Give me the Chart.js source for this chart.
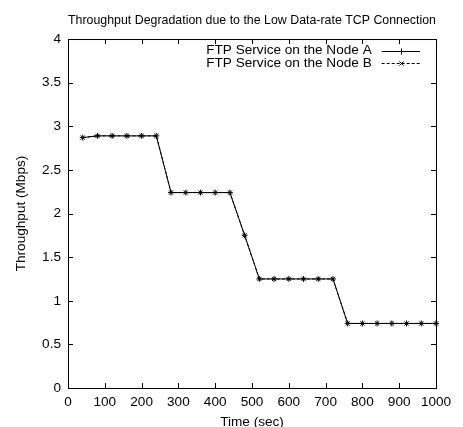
<!DOCTYPE html>
<html><head><meta charset="utf-8">
<script src="https://cdn.jsdelivr.net/npm/chart.js@4"></script>
<style>html,body{margin:0;padding:0;background:#fff;}canvas{display:block;}</style>
</head><body>
<canvas id="c" width="463" height="427"></canvas>
<script>
const chartTitle = 'Throughput Degradation due to the Low Data-rate TCP Connection';
const xTitle = 'Time (sec)';
const yTitle = 'Throughput (Mbps)';
const seriesLabels = ['FTP Service on the Node A', 'FTP Service on the Node B'];
const timeSec = [40, 80, 120, 160, 200, 240, 280, 320, 360, 400, 440, 480, 520, 560, 600, 640, 680, 720, 760, 800, 840, 880, 920, 960, 1000];
const nodeA = [2.87, 2.89, 2.89, 2.89, 2.89, 2.89, 2.24, 2.24, 2.24, 2.24, 2.24, 1.75, 1.25, 1.25, 1.25, 1.25, 1.25, 1.25, 0.74, 0.74, 0.74, 0.74, 0.74, 0.74, 0.74];
const nodeB = [2.87, 2.89, 2.89, 2.89, 2.89, 2.89, 2.24, 2.24, 2.24, 2.24, 2.24, 1.75, 1.25, 1.25, 1.25, 1.25, 1.25, 1.25, 0.74, 0.74, 0.74, 0.74, 0.74, 0.74, 0.74];
const xTickLabels = ['0', '100', '200', '300', '400', '500', '600', '700', '800', '900', '1000'];
const yTickLabels = ['0', '0.5', '1', '1.5', '2', '2.5', '3', '3.5', '4'];

const FONT_FAMILY = '"Liberation Sans", Arial, Helvetica, sans-serif';
const FONT_SIZE = 13.6;
Chart.defaults.font.family = FONT_FAMILY;
Chart.defaults.font.size = FONT_SIZE;
Chart.defaults.color = '#000';

const toPts = (xs, ys) => xs.map((x, i) => ({x: x, y: ys[i]}));

const framePlugin = {
  id: 'gpFrame',
  beforeDatasetsDraw(chart) {
    const {ctx, chartArea: a, scales: {x, y}} = chart;
    const L = 5;
    ctx.save();
    ctx.strokeStyle = '#000';
    ctx.lineWidth = 1;
    ctx.beginPath();
    x.ticks.forEach((t, i) => {
      if (i === 0 || i === x.ticks.length - 1) return;
      const px = Math.round(x.getPixelForValue(t.value)) + 0.5;
      ctx.moveTo(px, a.bottom); ctx.lineTo(px, a.bottom - L);
      ctx.moveTo(px, a.top); ctx.lineTo(px, a.top + L);
    });
    y.ticks.forEach((t, i) => {
      if (i === 0 || i === y.ticks.length - 1) return;
      const py = Math.round(y.getPixelForValue(t.value)) + 0.5;
      ctx.moveTo(a.left, py); ctx.lineTo(a.left + L, py);
      ctx.moveTo(a.right, py); ctx.lineTo(a.right - L, py);
    });
    ctx.stroke();
    ctx.strokeRect(a.left + 0.5, a.top + 0.5, a.right - a.left, a.bottom - a.top);
    ctx.restore();
  }
};

const legendPlugin = {
  id: 'gpLegend',
  afterDatasetsDraw(chart) {
    const {ctx, chartArea: a} = chart;
    ctx.save();
    ctx.font = FONT_SIZE + 'px ' + FONT_FAMILY;
    ctx.fillStyle = '#000';
    ctx.textAlign = 'right';
    ctx.textBaseline = 'middle';
    chart.data.datasets.forEach((ds, i) => {
      const yy = a.top + 11.7 + i * 12.6;
      ctx.fillText(ds.label, a.right - 64.3, yy);
      const x0 = a.right - 54.3, x1 = a.right - 16;
      const ly = Math.round(yy) + 0.5;
      ctx.strokeStyle = ds.borderColor;
      ctx.lineWidth = 1;
      ctx.setLineDash(ds.borderDash || []);
      ctx.beginPath(); ctx.moveTo(x0, ly); ctx.lineTo(x1, ly); ctx.stroke();
      ctx.setLineDash([]);
      Chart.helpers.drawPoint(ctx, {pointStyle: ds.pointStyle, radius: ds.pointRadius, borderWidth: 1, rotation: 0}, Math.round((x0 + x1) / 2) + 0.5, ly);
    });
    ctx.restore();
  }
};

new Chart(document.getElementById('c'), {
  type: 'line',
  data: {
    datasets: [
      {label: seriesLabels[0], data: toPts(timeSec, nodeA), borderColor: '#000', borderWidth: 1, pointStyle: 'cross', pointRadius: 3, pointBorderColor: '#000', pointBackgroundColor: '#000', pointBorderWidth: 1, fill: false, tension: 0, clip: false},
      {label: seriesLabels[1], data: toPts(timeSec, nodeB), borderColor: '#000', borderWidth: 1, borderDash: [3, 2], pointStyle: 'crossRot', pointRadius: 3, pointBorderColor: '#000', pointBackgroundColor: '#000', pointBorderWidth: 1, fill: false, tension: 0, clip: false}
    ]
  },
  options: {
    responsive: false,
    animation: false,
    devicePixelRatio: 1,
    layout: {padding: {left: 0, right: 27, top: 0, bottom: 0}},
    plugins: {
      legend: {display: false},
      tooltip: {enabled: false},
      title: {display: true, text: chartTitle, fullSize: false, color: '#000', font: {size: FONT_SIZE, weight: 'normal'}, padding: {top: 12, bottom: 10.7}}
    },
    scales: {
      x: {
        type: 'linear', min: 0, max: 1000,
        ticks: {stepSize: 100, padding: 6, maxRotation: 0, autoSkip: false, color: '#000', callback: (v, i) => xTickLabels[i]},
        grid: {display: false, drawTicks: false}, border: {display: false},
        title: {display: true, text: xTitle, color: '#000', padding: {top: 0, bottom: -3}},
        afterFit: s => { s.height = 39; }
      },
      y: {
        type: 'linear', min: 0, max: 4,
        ticks: {stepSize: 0.5, padding: 7, color: '#000', callback: (v, i) => yTickLabels[i]},
        grid: {display: false, drawTicks: false}, border: {display: false},
        title: {display: true, text: yTitle, color: '#000', padding: {top: 13.5, bottom: 0}},
        afterFit: s => { s.width = 68; }
      }
    }
  },
  plugins: [framePlugin, legendPlugin]
});
</script>
</body></html>
